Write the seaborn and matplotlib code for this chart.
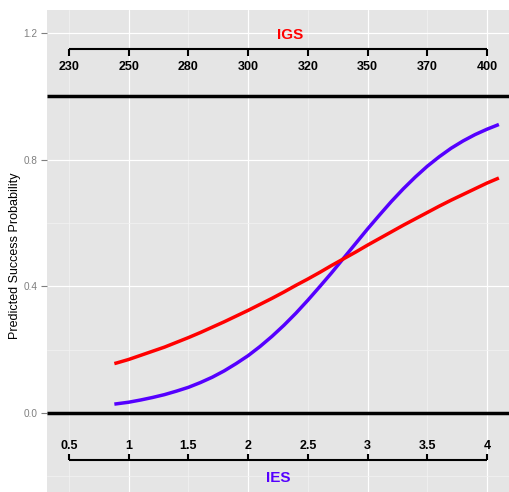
import matplotlib
matplotlib.use("Agg")
import matplotlib.pyplot as plt
import pandas as pd
import seaborn as sns
from matplotlib.ticker import FixedLocator

# Predicted success probability along the IES scale (IGS shares the same positions)
ies_x = [0.88, 0.9, 1.0, 1.1, 1.2, 1.3, 1.4, 1.5, 1.6, 1.7, 1.8, 1.9, 2.0,
         2.1, 2.2, 2.3, 2.4, 2.5, 2.6, 2.7, 2.8, 2.9, 3.0, 3.1, 3.2, 3.3,
         3.4, 3.5, 3.6, 3.7, 3.8, 3.9, 4.0, 4.1]
ies_prob = [0.028, 0.029, 0.034, 0.041, 0.049, 0.058, 0.069, 0.081, 0.096,
            0.113, 0.133, 0.156, 0.181, 0.210, 0.242, 0.277, 0.315, 0.356,
            0.399, 0.443, 0.489, 0.535, 0.581, 0.625, 0.668, 0.708, 0.745,
            0.779, 0.809, 0.836, 0.859, 0.879, 0.896, 0.911]
igs_prob = [0.156, 0.158, 0.169, 0.182, 0.195, 0.208, 0.223, 0.238, 0.254,
            0.271, 0.288, 0.306, 0.324, 0.343, 0.362, 0.382, 0.403, 0.423,
            0.444, 0.466, 0.487, 0.508, 0.530, 0.551, 0.572, 0.593, 0.613,
            0.633, 0.653, 0.672, 0.690, 0.708, 0.726, 0.742]

axis_ticks = [0.5, 1.0, 1.5, 2.0, 2.5, 3.0, 3.5, 4.0]
ies_labels = ["0.5", "1", "1.5", "2", "2.5", "3", "3.5", "4"]
igs_labels = ["230", "250", "280", "300", "320", "350", "370", "400"]

df = pd.DataFrame({
    "x": ies_x * 2,
    "prob": ies_prob + igs_prob,
    "scale": ["IES"] * len(ies_x) + ["IGS"] * len(ies_x),
})
palette = {"IES": "#5500FF", "IGS": "#FF0000"}

sns.set_style("darkgrid")
plt.rcParams["font.family"] = ["Liberation Sans", "DejaVu Sans"]

fig = plt.figure(figsize=(5.1, 4.92), dpi=100)
ax = fig.add_axes([47 / 510, 0, 463 / 510, 482 / 492])
ax.set_facecolor("#E5E5E5")
for s in ax.spines.values():
    s.set_visible(False)

ax.set_xlim(0.316, 4.193)
ax.set_ylim(-0.2495, 1.2725)

ax.xaxis.set_major_locator(FixedLocator([1, 2, 3, 4]))
ax.xaxis.set_minor_locator(FixedLocator([0.5, 1.5, 2.5, 3.5]))
ax.yaxis.set_major_locator(FixedLocator([0.0, 0.4, 0.8, 1.2]))
ax.yaxis.set_minor_locator(FixedLocator([-0.2, 0.2, 0.6, 1.0]))
ax.grid(which="major", color="white", linewidth=0.85)
ax.grid(which="minor", color="#F2F2F2", linewidth=0.55)
ax.set_axisbelow(True)

ax.tick_params(axis="x", which="both", length=0, labelbottom=False)
ax.tick_params(axis="y", which="minor", length=0)
ax.tick_params(axis="y", which="major", length=4, width=0.8, color="#7F7F7F",
               labelcolor="#7F7F7F", labelsize=7.2, pad=3, left=True)
ax.set_yticklabels(["0.0", "0.4", "0.8", "1.2"])

# reference lines at probability 0 and 1
ax.axhline(0.0, color="black", linewidth=2.5, zorder=3)
ax.axhline(1.0, color="black", linewidth=2.5, zorder=3)

sns.lineplot(data=df, x="x", y="prob", hue="scale", palette=palette,
             estimator=None, sort=False, linewidth=2.5, legend=False, ax=ax,
             zorder=4)
for ln in ax.get_lines():
    ln.set_solid_capstyle("butt")
    ln.set_solid_joinstyle("round")

ax.set_xlabel("")
ax.set_ylabel("Predicted Success Probability", fontsize=9, color="black")
ax.yaxis.set_label_coords(-0.057, 0.49)

# IGS scale drawn across the top of the panel
ax.plot([axis_ticks[0], axis_ticks[-1]], [1.15, 1.15], color="black",
        linewidth=1.5, solid_capstyle="butt", zorder=5)
ax.vlines(axis_ticks, 1.127, 1.15, color="black", linewidth=1.5, zorder=5)
for xv, lab in zip(axis_ticks, igs_labels):
    ax.text(xv, 1.083, lab, ha="center", va="baseline", fontsize=9,
            fontweight="bold", color="black")
ax.text(2.35, 1.181, "IGS", ha="center", va="baseline", fontsize=11,
        fontweight="bold", color=palette["IGS"])

# IES scale drawn across the bottom of the panel
ax.plot([axis_ticks[0], axis_ticks[-1]], [-0.15, -0.15], color="black",
        linewidth=1.5, solid_capstyle="butt", zorder=5)
ax.vlines(axis_ticks, -0.15, -0.129, color="black", linewidth=1.5, zorder=5)
for xv, lab in zip(axis_ticks, ies_labels):
    ax.text(xv, -0.1146, lab, ha="center", va="baseline", fontsize=9,
            fontweight="bold", color="black")
ax.text(2.25, -0.218, "IES", ha="center", va="baseline", fontsize=11,
        fontweight="bold", color=palette["IES"])

fig.savefig("out.png", dpi=100, facecolor="white")
